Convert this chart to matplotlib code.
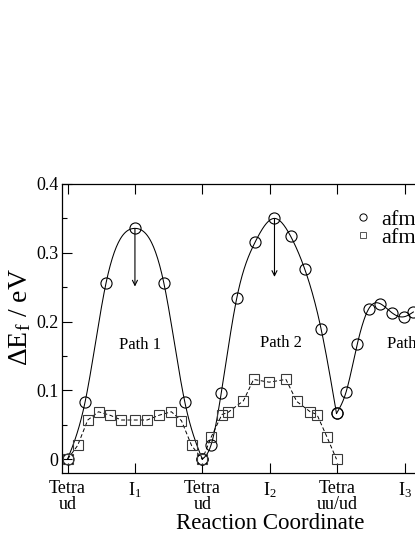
import numpy as np
import matplotlib
matplotlib.use("Agg")
import matplotlib.pyplot as plt
from matplotlib.lines import Line2D
from matplotlib.ticker import MultipleLocator, FixedLocator

plt.rcParams['font.family'] = ['Liberation Serif', 'DejaVu Serif']
plt.rcParams['mathtext.fontset'] = 'custom'
plt.rcParams['mathtext.rm'] = 'Liberation Serif'
plt.rcParams['mathtext.it'] = 'Liberation Serif:italic'

# ---- data ----
# circles, solid spline curve, one segment per path
path1_x = [0.0, 0.26, 0.57, 1.0, 1.43, 1.74, 2.0]
path1_y = [0.0, 0.083, 0.2555, 0.3355, 0.2555, 0.083, 0.0]
path2_x = [2.0, 2.13, 2.28, 2.51, 2.78, 3.07, 3.31, 3.52, 3.76, 3.99]
path2_y = [0.0, 0.021, 0.096, 0.234, 0.315, 0.350, 0.324, 0.276, 0.190, 0.0665]
path3_x = [3.99, 4.13, 4.30, 4.47, 4.64, 4.81, 4.99, 5.13]
path3_y = [0.0665, 0.097, 0.168, 0.219, 0.226, 0.213, 0.207, 0.214]

# squares, dashed line
sq_x = [0.0, 0.15, 0.30, 0.46, 0.63, 0.80, 1.0, 1.18, 1.36, 1.54, 1.69, 1.84, 2.0,
        2.13, 2.29, 2.38, 2.61, 2.76, 2.99, 3.24, 3.40, 3.60, 3.70, 3.85, 3.99]
sq_y = [0.0, 0.020, 0.057, 0.069, 0.064, 0.057, 0.057, 0.057, 0.064, 0.069, 0.056, 0.020, 0.0,
        0.032, 0.065, 0.068, 0.085, 0.116, 0.112, 0.116, 0.084, 0.069, 0.065, 0.032, 0.0]

tick_pos = [0, 1, 2, 3, 4, 5]
tick_labels = ['Tetra\nud', 'I$_1$', 'Tetra\nud', 'I$_2$', 'Tetra\nuu/ud', 'I$_3$']
ytick_vals = [0, 0.1, 0.2, 0.3, 0.4]
ytick_labels = ['0', '0.1', '0.2', '0.3', '0.4']
arrow_x = [1.0, 3.07]
arrow_from = [0.3355, 0.350]
arrow_to = [0.251, 0.265]
legend_labels = ['afm', 'afm']


def natural_spline(x, y, n=200):
    x = np.asarray(x, float)
    y = np.asarray(y, float)
    m = len(x)
    h = np.diff(x)
    A = np.zeros((m, m))
    b = np.zeros(m)
    A[0, 0] = A[-1, -1] = 1.0
    for i in range(1, m - 1):
        A[i, i - 1] = h[i - 1]
        A[i, i] = 2 * (h[i - 1] + h[i])
        A[i, i + 1] = h[i]
        b[i] = 3 * ((y[i + 1] - y[i]) / h[i] - (y[i] - y[i - 1]) / h[i - 1])
    c = np.linalg.solve(A, b)
    xs = np.linspace(x[0], x[-1], n)
    idx = np.clip(np.searchsorted(x, xs) - 1, 0, m - 2)
    dx = xs - x[idx]
    bb = (y[idx + 1] - y[idx]) / h[idx] - h[idx] * (2 * c[idx] + c[idx + 1]) / 3
    d = (c[idx + 1] - c[idx]) / (3 * h[idx])
    ys = y[idx] + bb * dx + c[idx] * dx ** 2 + d * dx ** 3
    return xs, ys


W, H = 415, 537
fig = plt.figure(figsize=(W / 100, H / 100), dpi=100)
ax = fig.add_axes([62 / W, 1 - 473 / H, 410 / W, 289 / H])
ax.set_xlim(-0.082, 6.0)
ax.set_ylim(-0.02, 0.4)

for px, py in [(path1_x, path1_y), (path2_x, path2_y), (path3_x, path3_y)]:
    xs, ys = natural_spline(px, py)
    ax.plot(xs, ys, color='black', lw=0.75, zorder=2)
    ax.plot(px, py, 'o', ms=8, mfc='none', mec='black', mew=0.8, zorder=3)

ax.plot(sq_x, sq_y, linestyle=(0, (4, 2.5)), color='black', lw=0.7, zorder=2)
ax.plot(sq_x, sq_y, 's', ms=7, mfc='none', mec='#3a3a3a', mew=0.8, zorder=3)

for xa, y0, y1 in zip(arrow_x, arrow_from, arrow_to):
    ax.annotate('', xy=(xa, y1), xytext=(xa, y0),
                arrowprops=dict(arrowstyle='->', lw=0.8, color='black',
                                shrinkA=0, shrinkB=0, mutation_scale=9))

ax.text(1.077, 0.166, 'Path 1', fontsize=12, ha='center', va='center')
ax.text(3.16, 0.169, 'Path 2', fontsize=12, ha='center', va='center')
ax.text(4.74, 0.168, 'Path 3', fontsize=12, ha='left', va='center')

ax.xaxis.set_major_locator(FixedLocator(tick_pos))
ax.set_xticklabels(tick_labels, fontsize=13, linespacing=0.95)
ax.set_yticks(ytick_vals)
ax.set_yticklabels(ytick_labels, fontsize=13)
ax.yaxis.set_minor_locator(MultipleLocator(0.05))
ax.tick_params(axis='both', which='major', direction='in', length=7, width=0.8,
               top=True, right=True)
ax.tick_params(axis='x', which='major', pad=5)
ax.tick_params(axis='y', which='major', pad=2.5)
ax.tick_params(axis='y', which='minor', direction='in', length=3.5, width=0.8, right=True)
for s in ax.spines.values():
    s.set_linewidth(0.9)

fig.text(20 / W, 1 - 317 / H, r'$\Delta$E$_\mathrm{f}$ / eV', rotation=90,
         fontsize=20, ha='center', va='center')
fig.text(270 / W, 1 - 529 / H, 'Reaction Coordinate', fontsize=16.5,
         ha='center', va='baseline')

handles = [Line2D([], [], marker='o', ls='none', ms=5.2, mfc='none', mec='black', mew=0.7),
           Line2D([], [], marker='s', ls='none', ms=5, mfc='none', mec='#555555', mew=0.7)]
fig.legend(handles, legend_labels, loc='upper left',
           bbox_to_anchor=(354.4 / W, 1 - 209.5 / H), frameon=False, fontsize=16,
           handlelength=0.8, handletextpad=0.4, labelspacing=-0.135, borderpad=0,
           borderaxespad=0)

fig.savefig('out.png', dpi=100)
